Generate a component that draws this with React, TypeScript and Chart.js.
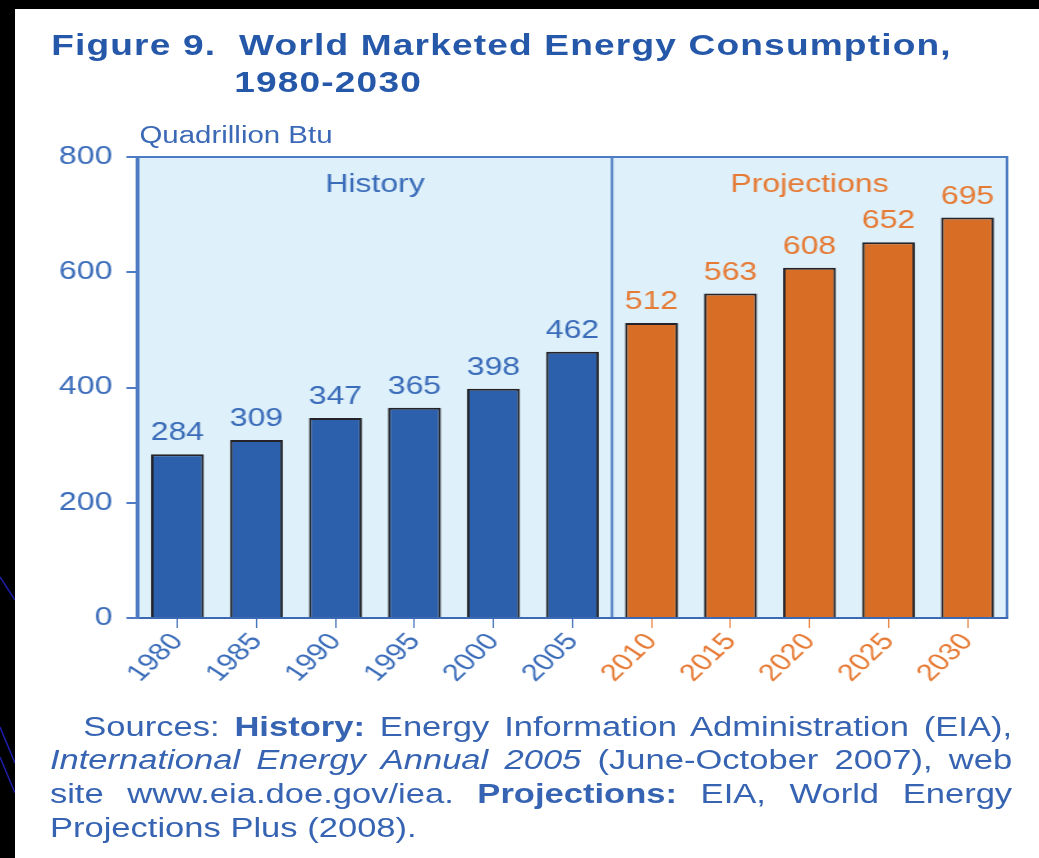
import React, { useEffect, useRef } from "react";
import { Chart, registerables } from "chart.js";

Chart.register(...registerables);

const years = ["1980", "1985", "1990", "1995", "2000", "2005", "2010", "2015", "2020", "2025", "2030"];
const consumption = [284, 309, 347, 365, 398, 462, 512, 563, 608, 652, 695];
const phases = ["History", "History", "History", "History", "History", "History",
  "Projections", "Projections", "Projections", "Projections", "Projections"];
const yTickValues = [0, 200, 400, 600, 800];
const regionNames = ["History", "Projections"];

const BLUE_BAR = "rgb(44,96,172)";
const ORANGE_BAR = "rgb(216,110,38)";
const BLUE_TEXT = "rgb(58,108,185)";
const ORANGE_TEXT = "rgb(230,122,52)";
const AXIS = "rgb(78,124,196)";
const PLOT_BG = "rgb(222,240,250)";

const INNER_W = 812;
const SCALE_X = 1039 / INNER_W;

const isProj = (i: number) => phases[i] === "Projections";

export default function App() {
  const canvasRef = useRef<HTMLCanvasElement | null>(null);

  useEffect(() => {
    document.body.style.margin = "0";
    const canvas = canvasRef.current;
    if (!canvas) return;

    const bgPlugin = {
      id: "bgPlugin",
      beforeDraw(chart: any) {
        const { ctx, chartArea } = chart;
        const { left, right, top, bottom } = chartArea;
        ctx.save();
        ctx.fillStyle = PLOT_BG;
        ctx.fillRect(left, top, right - left, bottom - top);
        ctx.strokeStyle = AXIS;
        ctx.lineWidth = 2;
        ctx.beginPath();
        ctx.moveTo(left, top);
        ctx.lineTo(right, top);
        ctx.lineTo(right, bottom);
        ctx.stroke();
        const xs = chart.scales.x;
        const firstProj = phases.indexOf("Projections");
        const divX = (xs.getPixelForValue(firstProj - 1) + xs.getPixelForValue(firstProj)) / 2;
        ctx.beginPath();
        ctx.moveTo(divX, top);
        ctx.lineTo(divX, bottom);
        ctx.stroke();
        ctx.restore();
      },
      afterDatasetsDraw(chart: any) {
        const { ctx, chartArea } = chart;
        const meta = chart.getDatasetMeta(0);
        const xs = chart.scales.x;
        ctx.save();
        ctx.font = "25px 'Liberation Sans', Arial, sans-serif";
        ctx.textAlign = "center";
        ctx.textBaseline = "alphabetic";
        meta.data.forEach((bar: any, i: number) => {
          ctx.fillStyle = isProj(i) ? ORANGE_TEXT : BLUE_TEXT;
          ctx.fillText(String(consumption[i]), bar.x, bar.y - 14);
        });
        const firstProj = phases.indexOf("Projections");
        const divX = (xs.getPixelForValue(firstProj - 1) + xs.getPixelForValue(firstProj)) / 2;
        ctx.font = "25px 'Liberation Sans', Arial, sans-serif";
        ctx.fillStyle = BLUE_TEXT;
        ctx.fillText(regionNames[0], (chartArea.left + divX) / 2, 192);
        ctx.fillStyle = ORANGE_TEXT;
        ctx.fillText(regionNames[1], (divX + chartArea.right) / 2, 192);
        ctx.restore();
      },
    };

    const chart = new Chart(canvas, {
      type: "bar",
      data: {
        labels: years,
        datasets: [
          {
            data: consumption,
            backgroundColor: consumption.map((_, i) => (isProj(i) ? ORANGE_BAR : BLUE_BAR)),
            borderColor: "rgb(35,35,40)",
            borderWidth: 2,
            borderSkipped: "bottom",
            barPercentage: 0.67,
            categoryPercentage: 1,
          },
        ],
      },
      options: {
        animation: false,
        responsive: true,
        maintainAspectRatio: false,
        layout: { padding: { left: 0, top: 157, right: 25, bottom: 160 } },
        plugins: {
          legend: { display: false },
          tooltip: { enabled: false },
          title: { display: false },
        },
        scales: {
          x: {
            offset: true,
            afterFit(scale: any) {
              scale.height = 80;
            },
            grid: {
              display: true,
              drawOnChartArea: false,
              drawTicks: true,
              tickLength: 10,
              offset: false,
              color: (ctx: any) => (isProj(ctx.index) ? ORANGE_TEXT : BLUE_TEXT),
            },
            border: { display: true, color: "rgb(60,105,180)", width: 2 },
            ticks: {
              minRotation: 50,
              maxRotation: 50,
              padding: 0,
              autoSkip: false,
              font: { family: "'Liberation Sans', Arial, sans-serif", size: 24 },
              color: (ctx: any) => (isProj(ctx.index) ? ORANGE_TEXT : BLUE_TEXT),
            },
          },
          y: {
            min: 0,
            max: 800,
            afterFit(scale: any) {
              scale.width = 107.8;
            },
            afterBuildTicks(scale: any) {
              scale.ticks = yTickValues.map((v) => ({ value: v }));
            },
            grid: {
              display: true,
              drawOnChartArea: false,
              drawTicks: true,
              tickLength: 9,
              color: AXIS,
              lineWidth: 2,
            },
            border: { display: true, color: AXIS, width: 3 },
            ticks: {
              padding: 11,
              font: { family: "'Liberation Sans', Arial, sans-serif", size: 25 },
              color: BLUE_TEXT,
            },
          },
        },
      },
      plugins: [bgPlugin],
    });

    return () => chart.destroy();
  }, []);

  const textFont = "'Liberation Sans', Arial, Helvetica, sans-serif";
  const srcColor = "rgb(55,100,178)";

  return (
    <div
      style={{
        position: "fixed",
        left: 0,
        top: 0,
        width: 1039,
        height: 858,
        background: "#000",
        overflow: "hidden",
      }}
    >
      <svg
        width={15}
        height={858}
        style={{ position: "absolute", left: 0, top: 0 }}
      >
        <path d="M0 577 L15 600" stroke="rgb(30,30,170)" strokeWidth={1.5} fill="none" />
        <path d="M0 727 L15 763" stroke="rgb(30,30,170)" strokeWidth={1.5} fill="none" />
        <path d="M0 757 L15 793" stroke="rgb(30,30,170)" strokeWidth={1.5} fill="none" />
      </svg>
      <div
        style={{
          position: "absolute",
          left: 15,
          top: 9,
          width: 1024,
          height: 849,
          background: "#fff",
        }}
      />
      <div
        style={{
          position: "absolute",
          left: 0,
          top: 0,
          width: INNER_W,
          height: 858,
          transform: `scaleX(${SCALE_X})`,
          transformOrigin: "0 0",
        }}
      >
        <div
          style={{
            position: "absolute",
            left: 40,
            top: 31,
            font: `bold 29px ${textFont}`,
            lineHeight: "29px",
            letterSpacing: "0.9px",
            color: "rgb(38,88,170)",
            whiteSpace: "nowrap",
          }}
        >
          Figure 9.&nbsp; World Marketed Energy Consumption,
        </div>
        <div
          style={{
            position: "absolute",
            left: 183,
            top: 68,
            font: `bold 29px ${textFont}`,
            lineHeight: "29px",
            letterSpacing: "0.9px",
            color: "rgb(38,88,170)",
            whiteSpace: "nowrap",
          }}
        >
          1980-2030
        </div>
        <div
          style={{
            position: "absolute",
            left: 109,
            top: 123.5,
            font: `23px ${textFont}`,
            lineHeight: "23px",
            color: "rgb(60,105,182)",
            whiteSpace: "nowrap",
          }}
        >
          Quadrillion Btu
        </div>
        <div style={{ position: "absolute", left: 0, top: 0, width: INNER_W, height: 858 }}>
          <canvas ref={canvasRef} />
        </div>
        <div
          style={{
            position: "absolute",
            left: 39,
            top: 710.7,
            width: 752,
            font: `27px ${textFont}`,
            lineHeight: "33.7px",
            color: srcColor,
          }}
        >
          <div style={{ textAlign: "justify", textAlignLast: "justify", paddingLeft: 26 }}>
            Sources: <b>History:</b> Energy Information Administration (EIA),
          </div>
          <div style={{ textAlign: "justify", textAlignLast: "justify" }}>
            <i>International Energy Annual 2005</i> (June-October 2007), web
          </div>
          <div style={{ textAlign: "justify", textAlignLast: "justify" }}>
            site www.eia.doe.gov/iea. <b>Projections:</b> EIA, World Energy
          </div>
          <div style={{ textAlign: "left" }}>Projections Plus (2008).</div>
        </div>
      </div>
    </div>
  );
}
